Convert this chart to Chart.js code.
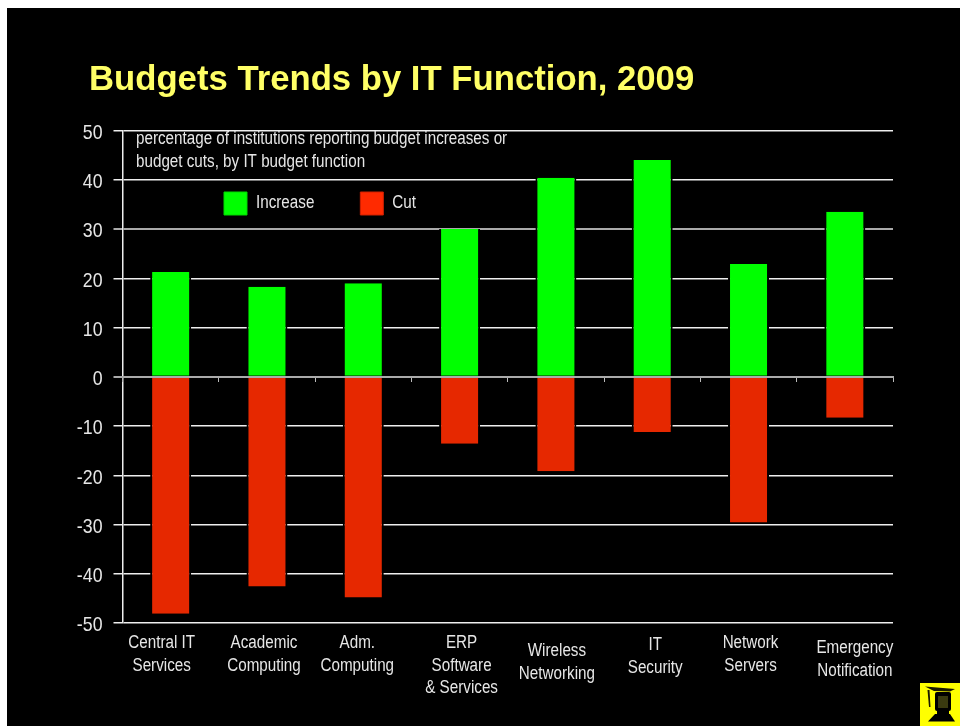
<!DOCTYPE html>
<html><head><meta charset="utf-8">
<style>
html,body{margin:0;padding:0;background:#fff;overflow:hidden}
#wrap{position:absolute;left:7px;top:8px;width:953px;height:718px;background:#000}
#logo{position:absolute;left:920px;top:683px;width:40px;height:43px}
</style>
<script src="https://cdn.jsdelivr.net/npm/chart.js@4"></script>
</head><body>
<div id="wrap"><canvas id="c" width="953" height="718"></canvas></div>
<svg id="logo" viewBox="0 0 40 43">
<rect width="40" height="43" fill="#ffff00"/>
<path d="M5 3.5 L35 6 L30 8.5 L14 8 Z" fill="#1a1a00"/>
<path d="M7.5 7 L9 24 L10.5 24 L9.5 7 Z" fill="#1a1a00"/>
<rect x="15" y="9" width="16" height="19" rx="2" fill="#000"/>
<rect x="18" y="13" width="10" height="12" fill="#3a3a10"/>
<rect x="17" y="28" width="12" height="3" fill="#000"/>
<path d="M8 38.5 L15 31 L30 31 L35 38.5 Z" fill="#000"/>
</svg>
<script>
const categories=[["Central IT","Services"],["Academic","Computing"],["Adm.","Computing"],["ERP","Software","& Services"],["Wireless","Networking"],["IT","Security"],["Network","Servers"],["Emergency","Notification"]];
const increase=[21.3,18.3,19,30,40.4,44,22.9,33.5];
const cut=[-48.1,-42.6,-44.8,-13.6,-19.2,-11.2,-29.6,-8.3];
const yTicks=[50,40,30,20,10,0,-10,-20,-30,-40,-50];
const labelShiftX=[-9,-3,-6,2,1,3,2,10];
const labelShiftY=[0,0,0,0,8,2,0,5];
const titleText="Budgets Trends by IT Function, 2009";
const noteLines=["percentage of institutions reporting budget increases or","budget cuts, by IT budget function"];
const SANS='"Liberation Sans",Arial,sans-serif';
const NARROW_K=0.845;
const canvas=document.getElementById('c');
const c2d=canvas.getContext('2d');
const baseFill=c2d.fillText.bind(c2d),baseMeasure=c2d.measureText.bind(c2d);
const isBold=()=>c2d.font.indexOf('bold')>=0||c2d.font.indexOf('700')>=0;
c2d.fillText=function(t,x,y,m){
 if(isBold())return baseFill(t,x,y,m);
 c2d.save();c2d.translate(x,y);c2d.scale(NARROW_K,1);baseFill(t,0,0);c2d.restore();
};
c2d.measureText=function(t){
 const w=baseMeasure(t).width;
 return {width:isBold()?w:w*NARROW_K};
};
const tweaks={id:'tweaks',
 beforeLayout(chart){chart.legend.isHorizontal=()=>true;},
 afterUpdate(chart){
  chart.scales.x.getLabelItems().forEach((it,i)=>{it.options.translation=[it.options.translation[0]+labelShiftX[i],it.options.translation[1]+labelShiftY[i]];});
  chart.scales.y.getLabelItems().forEach(it=>{it.options.translation=[it.options.translation[0],it.options.translation[1]+2.5];});
 },
 afterLayout(chart){
  const l=chart.legend;
  l.left=217-46;l.right=l.left+400;l.top=184-46;l.bottom=l.top+200;
  chart.titleBlock.left=82;
 },
 afterDraw(chart){
  const ctx=chart.ctx,a=chart.chartArea;
  ctx.save();ctx.font='18px '+SANS;ctx.fillStyle='#e6e6e6';ctx.textBaseline='middle';ctx.textAlign='left';
  noteLines.forEach((t,i)=>ctx.fillText(t,a.left+13.5,a.top+8+i*23));
  ctx.restore();
 }};
new Chart(canvas,{type:'bar',plugins:[tweaks],
 data:{labels:categories,datasets:[
  {label:'Increase',data:increase,backgroundColor:'#00ff00',borderColor:'#000',borderWidth:{left:2,right:2,top:0,bottom:0},borderSkipped:false},
  {label:'Cut',data:cut,backgroundColor:'#e62800',borderColor:'#000',borderWidth:{left:2,right:2,top:0,bottom:0},borderSkipped:false}]},
 options:{responsive:false,animation:false,
  layout:{padding:{left:62,right:67,top:0,bottom:0}},
  datasets:{bar:{categoryPercentage:1,barPercentage:41/96.3,grouped:false}},
  scales:{
   x:{type:'category',position:'bottom',offset:true,
      grid:{display:false},border:{display:false},
      afterFit(s){s.height=103},
      ticks:{color:'#e6e6e6',font:{family:SANS,size:18,lineHeight:1.25},padding:1,maxRotation:0,minRotation:0,autoSkip:false,display:true}},
   x2:{type:'category',labels:categories,position:{y:0},offset:true,
      grid:{drawOnChartArea:false,tickLength:4,color:'#bbb',offset:true,tickWidth:1,z:1},border:{display:true,color:'#aaa',width:2,z:1},
      ticks:{display:false}},
   y:{min:-50,max:50,position:'left',
      afterFit(s){s.width=53.5},
      afterBuildTicks(s){s.ticks=yTicks.map(v=>({value:v}))},
      grid:{color:c=>(c.tick&&(c.tick.value===30||c.tick.value===0))?'#aaa':'#eee',lineWidth:c=>(c.tick&&(c.tick.value===30||c.tick.value===0))?2:1.5,tickLength:9},border:{color:'#eee',width:1.5},
      ticks:{color:'#e6e6e6',font:{family:SANS,size:21},padding:11,autoSkip:false}}},
  plugins:{
   title:{display:true,text:titleText,align:'start',color:'#ffff66',font:{family:SANS,size:34.7,weight:'bold'},padding:{top:51.2,bottom:29.7},fullSize:true},
   legend:{display:true,position:'chartArea',align:'start',
    labels:{color:'#e6e6e6',font:{family:SANS,size:18},boxWidth:23,boxHeight:23,padding:46,
     generateLabels:()=>[{text:'Increase',fillStyle:'#00ff00',strokeStyle:'#00d800',lineWidth:1,fontColor:'#e6e6e6',datasetIndex:0},{text:'Cut',fillStyle:'#ff2a00',strokeStyle:'#d02000',lineWidth:1,fontColor:'#e6e6e6',datasetIndex:1}]}},
   tooltip:{enabled:false}}}});
</script>
</body></html>
